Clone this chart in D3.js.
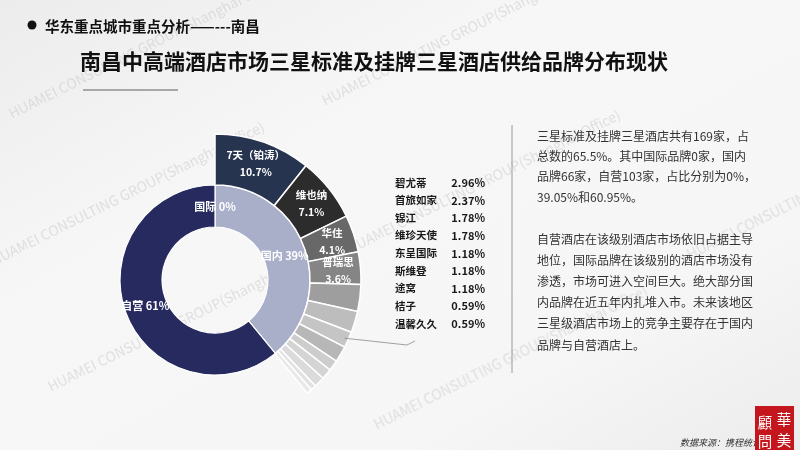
<!DOCTYPE html>
<html><head><meta charset="utf-8">
<script src="https://cdn.jsdelivr.net/npm/d3@7"></script>
<style>html,body{margin:0;padding:0;background:#f4f4f4;overflow:hidden}</style>
</head><body><svg id="c" width="800" height="450"></svg>
<script>
// ---- data ----
const innerCategories = ["国际", "国内", "自营"];
const innerValues = [0, 39.05, 60.95];
const innerLabels = ["国际 0%", "国内 39%", "自营 61%"];
const brandNames = ["7天（铂涛）", "维也纳", "华住", "普瑞思", "碧尤蒂", "首旅如家", "锦江", "维珍天使", "东呈国际", "斯维登", "途窝", "桔子", "温馨久久"];
const brandValues = [10.7, 7.1, 4.1, 3.6, 2.96, 2.37, 1.78, 1.78, 1.18, 1.18, 1.18, 0.59, 0.59];
const brandLabels = ["10.7%", "7.1%", "4.1%", "3.6%", "2.96%", "2.37%", "1.78%", "1.78%", "1.18%", "1.18%", "1.18%", "0.59%", "0.59%"];
const subtitle = "华东重点城市重点分析——---南昌";
const title = "南昌中高端酒店市场三星标准及挂牌三星酒店供给品牌分布现状";
const para1 = ["三星标准及挂牌三星酒店共有169家，占", "总数的65.5%。其中国际品牌0家，国内", "品牌66家，自营103家，占比分别为0%，", "39.05%和60.95%。"];
const para2 = ["自营酒店在该级别酒店市场依旧占据主导", "地位，国际品牌在该级别的酒店市场没有", "渗透，市场可进入空间巨大。绝大部分国", "内品牌在近五年内扎堆入市。未来该地区", "三星级酒店市场上的竞争主要存在于国内", "品牌与自营酒店上。"];
const source = "数据来源：携程统计";
const watermark = "HUAMEI CONSULTING GROUP(Shanghai Office)";

// ---- styles ----
const FONT = "'Noto Sans CJK SC','Noto Sans',sans-serif";
const innerColors = ["#c9cbe0", "#a9aec9", "#262a5f"];
const brandColors = ["#27344f", "#2c2c2c", "#686868", "#858585", "#9e9e9e", "#bdbdbd", "#c5c5c5", "#b7b7b7", "#cdcdcd", "#d4d4d4", "#dbdbdb", "#e2e2e2", "#e9e9e9"];

const svg = d3.select("#c");
const defs = svg.append("defs");
const bg = defs.append("linearGradient").attr("id", "bg").attr("x1", 0).attr("y1", 0).attr("x2", 1).attr("y2", 1);
bg.append("stop").attr("offset", 0).attr("stop-color", "#ececec");
bg.append("stop").attr("offset", 0.35).attr("stop-color", "#f7f7f7");
bg.append("stop").attr("offset", 0.75).attr("stop-color", "#f6f6f6");
bg.append("stop").attr("offset", 1).attr("stop-color", "#ececec");
svg.append("rect").attr("width", 800).attr("height", 450).attr("fill", "url(#bg)");

// watermarks
const wm = svg.append("g").attr("font-family", FONT).attr("font-size", 14).attr("fill", "#c8c8c8").attr("opacity", 0.5);
[[-6, 266], [51, 392], [377, 430], [12, 119], [325, 106], [350, 254], [690, 260]].forEach(p => {
  wm.append("text").attr("transform", `translate(${p[0]},${p[1]}) rotate(-26.5)`).text(watermark);
});

// header
svg.append("circle").attr("cx", 32).attr("cy", 25).attr("r", 4.5).attr("fill", "#111");
svg.append("text").attr("x", 45).attr("y", 25).attr("dominant-baseline", "central")
  .attr("font-family", FONT).attr("font-weight", 700).attr("font-size", 14.5).attr("fill", "#111").text(subtitle);
svg.append("text").attr("x", 80).attr("y", 60).attr("dominant-baseline", "central")
  .attr("font-family", FONT).attr("font-weight", 700).attr("font-size", 21).attr("fill", "#111").text(title);
svg.append("line").attr("x1", 83).attr("x2", 178).attr("y1", 90).attr("y2", 90).attr("stroke", "#a8a8a8").attr("stroke-width", 2);

// ---- donut ----
const cx = 215, cy = 280;
const r0 = 53, r1 = 95, r2 = 146;
const g = svg.append("g").attr("transform", `translate(${cx},${cy})`);

const innerPie = d3.pie().sort(null).value(d => d).startAngle(0).endAngle(2 * Math.PI);
const innerArcs = innerPie(innerValues);
const innerArc = d3.arc().innerRadius(r0).outerRadius(r1);
g.selectAll("path.inner").data(innerArcs).join("path").attr("class", "inner")
  .attr("d", innerArc).attr("fill", (d, i) => innerColors[i]).attr("stroke", "#fff").attr("stroke-width", 1.2);

const outerEnd = 2 * Math.PI * d3.sum(brandValues) / 100;
const outerPie = d3.pie().sort(null).value(d => d).startAngle(0).endAngle(outerEnd);
const outerArcs = outerPie(brandValues);
const outerArc = d3.arc().innerRadius(r1).outerRadius(r2);
g.selectAll("path.outer").data(outerArcs).join("path").attr("class", "outer")
  .attr("d", outerArc).attr("fill", (d, i) => brandColors[i]).attr("stroke", "#fff").attr("stroke-width", 1.5);

// inner labels
const innerLabelArc = d3.arc().innerRadius(r0 + 20).outerRadius(r1 - 20);
g.selectAll("text.il").data(innerArcs).join("text").attr("class", "il")
  .attr("transform", d => `translate(${innerLabelArc.centroid(d)})`)
  .attr("text-anchor", "middle").attr("dominant-baseline", "central")
  .attr("font-family", FONT).attr("font-weight", 700).attr("font-size", 11).attr("fill", "#fff")
  .text((d, i) => innerLabels[i]);

// outer labels (first four)
const outerLabelArc = d3.arc().innerRadius(r1 + 9).outerRadius(r2 - 3);
const lab = g.selectAll("g.ol").data(outerArcs.slice(0, 4)).join("g").attr("class", "ol")
  .attr("transform", d => `translate(${outerLabelArc.centroid(d)})`)
  .attr("font-family", FONT).attr("font-weight", 700).attr("font-size", 10.5).attr("fill", "#fff").attr("text-anchor", "middle");
lab.append("text").attr("y", -8.5).attr("dominant-baseline", "central").text((d, i) => brandNames[i]);
lab.append("text").attr("y", 8.5).attr("dominant-baseline", "central").text((d, i) => brandLabels[i]);

// ---- legend for small brands ----
const legX = 395, legVX = 485;
const small = brandNames.slice(4);
const rowY = d3.scalePoint().domain(small).range([182, 323]);
const leg = svg.append("g").attr("font-family", FONT).attr("fill", "#1a1a1a");
small.forEach((n, i) => {
  leg.append("text").attr("x", legX).attr("y", rowY(n)).attr("dominant-baseline", "central").attr("font-size", 10.5).attr("font-weight", 600).text(n);
  leg.append("text").attr("x", legVX).attr("y", rowY(n)).attr("dominant-baseline", "central").attr("text-anchor", "end").attr("font-size", 11).attr("font-weight", 700).text(brandLabels[i + 4]);
});

// leader line from small slices to legend
const sa = outerArcs[6];
const ang = (sa.startAngle + sa.endAngle) / 2;
const sx = cx + (r2 - 4) * Math.sin(ang), sy = cy - (r2 - 4) * Math.cos(ang);
const lastY = rowY(small[small.length - 1]);
svg.append("path").attr("d", d3.line()([[sx, sy], [legX + 12, lastY + 22], [legX + 20, lastY + 18]]))
  .attr("fill", "none").attr("stroke", "#8a8a8a").attr("stroke-width", 0.8);

// ---- right text panel ----
svg.append("line").attr("x1", 512).attr("x2", 512).attr("y1", 125).attr("y2", 373).attr("stroke", "#9a9a9a").attr("stroke-width", 1);
const tp = svg.append("g").attr("font-family", FONT).attr("font-size", 12).attr("fill", "#333");
const p1y = d3.scaleLinear().domain([0, 3]).range([135, 196]);
para1.forEach((t, i) => tp.append("text").attr("x", 537).attr("y", p1y(i)).attr("dominant-baseline", "central").text(t));
const p2y = d3.scaleLinear().domain([0, 5]).range([238, 344]);
para2.forEach((t, i) => tp.append("text").attr("x", 537).attr("y", p2y(i)).attr("dominant-baseline", "central").text(t));

// ---- source & seal ----
svg.append("text").attr("x", 680).attr("y", 442).attr("dominant-baseline", "central")
  .attr("font-family", FONT).attr("font-size", 9).attr("font-style", "italic").attr("fill", "#333").text(source);
svg.append("rect").attr("x", 755).attr("y", 406).attr("width", 39).attr("height", 44).attr("fill", "#c4161c");
const seal = svg.append("g").attr("font-family", "'Noto Sans CJK TC',sans-serif").attr("font-size", 14.5).attr("fill", "#fff").attr("text-anchor", "middle");
[["華", 784, 418], ["美", 784, 439], ["顧", 765, 421], ["問", 765, 440]].forEach(c => {
  seal.append("text").attr("x", c[1]).attr("y", c[2]).attr("dominant-baseline", "central").text(c[0]);
});
</script></body></html>
